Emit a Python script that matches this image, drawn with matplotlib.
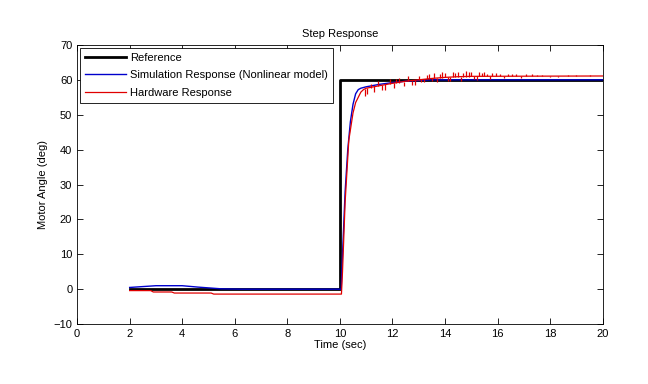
import matplotlib
matplotlib.use("Agg")
import matplotlib.pyplot as plt

plt.rcParams['font.family'] = ['Liberation Sans', 'DejaVu Sans']

# reference step
ref_t = [2.0, 10.0, 10.0, 20.0]
ref_y = [0.0, 0.0, 60.0, 60.0]

# simulation response (nonlinear model)
sim_t = [2.0, 2.6, 3.0, 4.0, 4.6, 5.5, 6.3, 10.05, 10.1, 10.2, 10.3, 10.4,
         10.5, 10.6, 10.7, 10.8, 11.0, 11.5, 12.0, 12.5, 13.0, 13.5, 14.0, 20.0]
sim_y = [0.5, 0.8, 1.0, 1.0, 0.6, 0.1, 0.0, 0.0, 10.0, 28.0, 40.0, 48.0,
         53.0, 56.0, 57.2, 57.6, 58.0, 58.7, 59.2, 59.6, 59.8, 60.0, 60.0, 60.0]

# hardware response (smooth part)
hw_t = [2.0, 2.8, 2.9, 3.6, 3.7, 5.1, 5.2, 10.06, 10.1, 10.2, 10.34, 10.5,
        10.6, 10.7, 10.8, 10.9, 11.0, 11.5, 12.0, 12.5, 13.0, 13.5, 14.0,
        14.5, 15.0, 20.0]
hw_y = [-0.4, -0.4, -0.8, -0.8, -1.1, -1.1, -1.4, -1.4, 5.0, 25.0, 42.7, 50.5,
        53.5, 55.0, 56.5, 57.2, 57.6, 58.3, 59.0, 59.6, 60.0, 60.4, 60.7,
        60.9, 61.0, 61.1]

# hardware measurement spikes: time, low, high
spike_t = [10.95, 11.05, 11.2, 11.3, 11.45, 11.6, 11.7, 11.9, 12.05, 12.15,
           12.25, 12.45, 12.6, 12.75, 12.85, 13.0, 13.1, 13.2, 13.3, 13.4,
           13.5, 13.6, 13.7, 13.8, 13.9, 14.0, 14.1, 14.2, 14.3, 14.4, 14.5,
           14.6, 14.7, 14.8, 14.9, 15.0, 15.1, 15.2, 15.3, 15.4, 15.5, 15.6,
           15.7, 15.8, 15.95, 16.1, 16.25, 16.4, 16.55, 16.7, 16.9, 17.1,
           17.3, 17.5, 17.7, 18.0, 18.3, 18.7, 19.0, 19.5]
spike_lo = [55.4, 55.8, 57.7, 56.5, 58.1, 57.2, 57.0, 58.8, 57.6, 59.0,
            59.2, 58.2, 59.6, 58.6, 58.5, 60.0, 59.4, 59.3, 60.2, 60.3,
            59.6, 60.4, 59.5, 60.5, 60.6, 60.7, 59.8, 59.7, 60.8, 60.8, 60.9,
            59.8, 60.9, 60.9, 60.9, 61.0, 60.2, 60.0, 61.0, 61.0, 61.0, 61.0,
            60.2, 61.0, 61.0, 61.0, 60.4, 61.0, 61.0, 61.0, 60.6, 61.1,
            61.1, 61.1, 61.1, 60.8, 60.7, 61.1, 61.1, 61.1]
spike_hi = [57.3, 57.7, 58.9, 58.3, 59.6, 58.5, 58.7, 60.2, 59.1, 60.3,
            60.6, 59.5, 61.0, 59.8, 60.0, 61.2, 60.1, 60.2, 61.5, 61.6,
            60.4, 62.0, 60.5, 61.8, 62.1, 62.0, 60.7, 60.8, 62.3, 61.9, 62.2,
            60.9, 62.0, 62.4, 62.1, 62.2, 61.0, 61.0, 62.3, 62.0, 62.2, 61.8,
            61.0, 62.0, 61.9, 61.7, 61.0, 61.8, 61.6, 61.6, 61.1, 61.6,
            61.6, 61.5, 61.5, 61.1, 61.1, 61.4, 61.4, 61.3]

fig = plt.figure(figsize=(6.48, 3.84), dpi=100)
ax = fig.add_axes([0.119, 0.156, 0.811, 0.727])

red = '#e00000'
ax.plot(ref_t, ref_y, color='black', lw=2.0, label='Reference')
ax.plot(sim_t, sim_y, color='#0000cc', lw=1.0, label='Simulation Response (Nonlinear model)')
ax.plot(hw_t, hw_y, color=red, lw=0.9, label='Hardware Response')
ax.vlines(spike_t, spike_lo, spike_hi, color=red, lw=0.9)

ax.set_xlim(0, 20)
ax.set_ylim(-10, 70)
ax.set_xticks(range(0, 21, 2))
ax.set_yticks(range(-10, 71, 10))
ax.tick_params(direction='in', top=True, right=True, labelsize=8, length=4, width=0.6)
for s in ax.spines.values():
    s.set_linewidth(0.6)

ax.set_title('Step Response', fontsize=8, pad=6)
ax.set_xlabel('Time (sec)', fontsize=8, labelpad=1)
ax.set_ylabel('Motor Angle (deg)', fontsize=8, labelpad=4)

leg = ax.legend(loc='upper left', fontsize=8, handlelength=3.7, fancybox=False,
                framealpha=1, edgecolor='black', borderaxespad=0.25,
                borderpad=0.45, labelspacing=0.68, handletextpad=0.35)
leg.get_frame().set_linewidth(0.6)

fig.savefig('out.png', dpi=100)
